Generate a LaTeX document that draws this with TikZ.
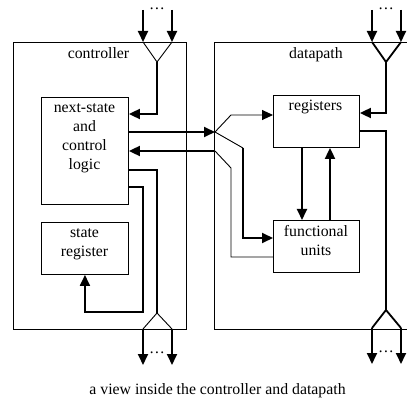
\documentclass[tikz,border=0pt]{standalone}
\usepackage{fontspec}
\setmainfont{Liberation Serif}
\usetikzlibrary{arrows.meta,calc}
\begin{document}
\begin{tikzpicture}[x=1pt,y=-1pt,
  font=\fontsize{15.8}{19}\selectfont,
  box/.style={draw, line width=0.9pt, inner sep=0pt, anchor=north west},
  txt/.style={inner sep=0pt, anchor=base, align=center},
  bus/.style={line width=1.8pt},
  wire/.style={line width=0.9pt},
  tip/.style={-{Triangle[length=11pt,width=10pt]}}
]
\path[use as bounding box] (0,0) rectangle (407,406);

% controller
\node[box, minimum width=173.3pt, minimum height=287pt] (ctrl) at (12.7,42) {};
\node[txt] (ctrllbl) at (98.5,59) {controller};
\node[box, minimum width=87pt, minimum height=107pt] (ns) at (41,97) {};
\node[txt] (nstext) at (84.5,170) {next-state\\and\\control\\logic};
\node[box, minimum width=87pt, minimum height=52pt] (sr) at (41,222) {};
\node[txt] (srtext) at (84.5,256) {state\\register};

% datapath
\coordinate (dpTR) at (410,42);
\coordinate (dpTL) at (214,42);
\coordinate (dpBL) at (214,329);
\coordinate (dpBR) at (410,329);
\draw[wire] (dpTR) -- (dpTL) -- (dpBL) -- (dpBR);
\node[txt] (dplbl) at (316,59) {datapath};
\node[box, minimum width=86pt, minimum height=52pt] (reg) at (273,95) {};
\node[txt] (regtext) at (315.5,111) {registers};
\node[box, minimum width=86pt, minimum height=52pt] (fu) at (273,220) {};
\node[txt] (futext) at (316,255) {functional\\units};

% controller inputs
\coordinate (ci1) at (143,10);
\coordinate (ci2) at (172,10);
\coordinate (cf1) at (143,42);
\coordinate (cf2) at (172,42);
\coordinate (cfv) at (157,62);
\node[txt] (cdots1) at (157,9.5) {…};
\draw[bus,tip] (ci1) -- (cf1);
\draw[bus,tip] (ci2) -- (cf2);
\draw[wire] (cf1) -- (cfv) -- (cf2);
\draw[bus,tip] (cfv) |- ($(ns.north east)+(0,17)$);

% controller outputs
\coordinate (co) at (157,313);
\coordinate (co1) at (143,329);
\coordinate (co2) at (172,329);
\coordinate (coe1) at (143,365);
\coordinate (coe2) at (172,365);
\node[txt] (cdots2) at (157,353) {…};
\draw[bus] ($(ns.north east)+(0,73)$) -| (co);
\draw[wire] (co1) -- (co) -- (co2);
\draw[bus,tip] (co1) -- (coe1);
\draw[bus,tip] (co2) -- (coe2);

% state register feedback
\coordinate (sb) at (143,312);
\draw[bus,tip] ($(ns.north east)+(0,90)$) -| (sb) -| (sr.south);

% controller <-> datapath
\coordinate (j) at (215,132);
\coordinate (c1) at (231,115);
\coordinate (c2) at (243,148);
\coordinate (c3) at (231,168);
\coordinate (c4) at (215,151);
\draw[bus,tip] ($(ns.north east)+(0,35)$) -- (j);
\draw[wire,tip] (j) -- (c1) -- ($(reg.north west)+(0,20)$);
\draw[wire] (j) -- (c2);
\draw[bus,tip] (c2) |- ($(fu.north west)+(0,18)$);
\draw[wire] ($(fu.north west)+(0,37)$) -| (c3) -- (c4);
\draw[bus,tip] (c4) -- ($(ns.north east)+(0,54)$);

% registers <-> functional units
\draw[bus,tip] ($(reg.south west)+(29,0)$) -- ($(fu.north west)+(29,0)$);
\draw[bus,tip] ($(fu.north west)+(57,0)$) -- ($(reg.south west)+(57,0)$);

% datapath inputs
\coordinate (di1) at (372,10);
\coordinate (di2) at (401,10);
\coordinate (df1) at (372,42);
\coordinate (df2) at (401,42);
\coordinate (dfv) at (386,62);
\node[txt] (ddots1) at (386,9.5) {…};
\draw[bus,tip] (di1) -- (df1);
\draw[bus,tip] (di2) -- (df2);
\draw[bus] (df1) -- (dfv) -- (df2);
\draw[bus,tip] (dfv) |- ($(reg.north east)+(0,18)$);

% datapath outputs
\coordinate (dov) at (386,310);
\coordinate (do1) at (372,328);
\coordinate (do2) at (401,328);
\coordinate (doe1) at (372,364);
\coordinate (doe2) at (401,364);
\node[txt] (ddots2) at (386,352) {…};
\draw[bus] ($(reg.north east)+(0,36)$) -| (dov);
\draw[bus] (do1) -- (dov) -- (do2);
\draw[bus,tip] (do1) -- (doe1);
\draw[bus,tip] (do2) -- (doe2);

% caption
\node[txt] (caption) at (217.5,394) {a view inside the controller and datapath};
\end{tikzpicture}
\end{document}
